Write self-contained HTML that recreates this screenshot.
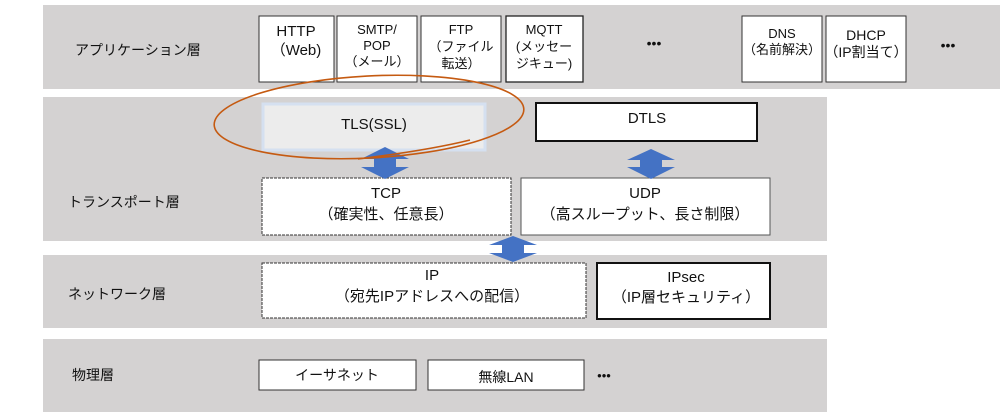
<!DOCTYPE html>
<html><head><meta charset="utf-8"><style>
body{margin:0;background:#fff;}
svg text{font-family:"Liberation Sans","Noto Sans CJK JP",sans-serif;fill:#111;}
</style></head><body>
<svg width="1000" height="414" viewBox="0 0 1000 414" xmlns="http://www.w3.org/2000/svg">
<rect x="43" y="5" width="957" height="84" fill="#d4d2d2"/>
<rect x="43" y="97" width="784" height="144" fill="#d4d2d2"/>
<rect x="43" y="255" width="784" height="73" fill="#d4d2d2"/>
<rect x="43" y="339" width="784" height="73" fill="#d4d2d2"/>

<g font-size="14">
<text x="75" y="55">アプリケーション層</text>
<text x="68" y="207">トランスポート層</text>
<text x="68" y="299">ネットワーク層</text>
<text x="72" y="380">物理層</text>
</g>

<g fill="#fff" stroke="#333" stroke-width="1">
<rect x="259" y="16" width="75" height="66"/>
<rect x="337" y="16" width="80" height="66"/>
<rect x="421" y="16" width="80" height="66"/>
<rect x="506" y="16" width="77" height="66" stroke="#222" stroke-width="1.3"/>
<rect x="742" y="16" width="80" height="66"/>
<rect x="826" y="16" width="80" height="66"/>
</g>
<g font-size="14" text-anchor="middle">
<text x="296" y="36" font-size="15">HTTP</text><text x="296" y="55" font-size="15">（Web)</text>
<text x="377" y="34" font-size="13">SMTP/</text><text x="377" y="50" font-size="13">POP</text><text x="377" y="66" font-size="13">（メール）</text>
<text x="461" y="34" font-size="13">FTP</text><text x="461" y="51" font-size="13">（ファイル</text><text x="461" y="68" font-size="13">転送）</text>
<text x="544" y="34" font-size="13">MQTT</text><text x="544" y="51" font-size="13">(メッセー</text><text x="544" y="68" font-size="13">ジキュー)</text>
<text x="782" y="38" font-size="13">DNS</text><text x="782" y="54" font-size="13">（名前解決）</text>
<text x="866" y="40" font-size="14">DHCP</text><text x="866" y="57" font-size="14">（IP割当て）</text>
<text x="654" y="48" font-size="14">•••</text>
<text x="948" y="50" font-size="14">•••</text>
</g>

<rect x="263" y="104" width="222" height="46" fill="#ececec" stroke="#d5e0f0" stroke-width="3"/>
<rect x="536" y="103" width="221" height="38" fill="#fff" stroke="#111" stroke-width="2"/>
<rect x="262" y="178" width="249" height="57" fill="#fff" stroke="#333" stroke-dasharray="3,1"/>
<rect x="521" y="178" width="249" height="57" fill="#fff" stroke="#555"/>
<rect x="262" y="263" width="324" height="55" fill="#fff" stroke="#333" stroke-dasharray="3,1"/>
<rect x="597" y="263" width="173" height="56" fill="#fff" stroke="#111" stroke-width="2"/>
<rect x="259" y="360" width="157" height="30" fill="#fff" stroke="#333"/>
<rect x="428" y="360" width="156" height="30" fill="#fff" stroke="#333"/>

<g text-anchor="middle" font-size="15">
<text x="374" y="129">TLS(SSL)</text>
<text x="647" y="123">DTLS</text>
<text x="386" y="198">TCP</text><text x="386" y="219">（確実性、任意長）</text>
<text x="645" y="198">UDP</text><text x="645" y="219">（高スループット、長さ制限）</text>
<text x="432" y="280">IP</text><text x="432" y="301">（宛先IPアドレスへの配信）</text>
<text x="686" y="282">IPsec</text><text x="686" y="302">（IP層セキュリティ）</text>
<text x="337" y="380" font-size="14">イーサネット</text>
<text x="506" y="382" font-size="14">無線LAN</text>
<text x="604" y="380" font-size="13">•••</text>
</g>

<g fill="#4472c4">
<path d="M385,147 L409,159 L396,159 L396,167 L409,167 L385,179 L361,167 L374,167 L374,159 L361,159 Z"/>
<path d="M651,149 L675,160 L662,160 L662,167 L675,167 L651,179 L627,167 L640,167 L640,160 L627,160 Z"/>
<path d="M513,236 L537,245 L524,245 L524,253 L537,253 L513,262 L489,253 L502,253 L502,245 L489,245 Z"/>
</g>

<ellipse cx="369" cy="117" rx="155" ry="41" transform="rotate(-3 369 117)" fill="none" stroke="#c55a11" stroke-width="1.6"/>
<path d="M358,159 Q430,150 470,140" fill="none" stroke="#c55a11" stroke-width="1.6"/>
</svg>
</body></html>
